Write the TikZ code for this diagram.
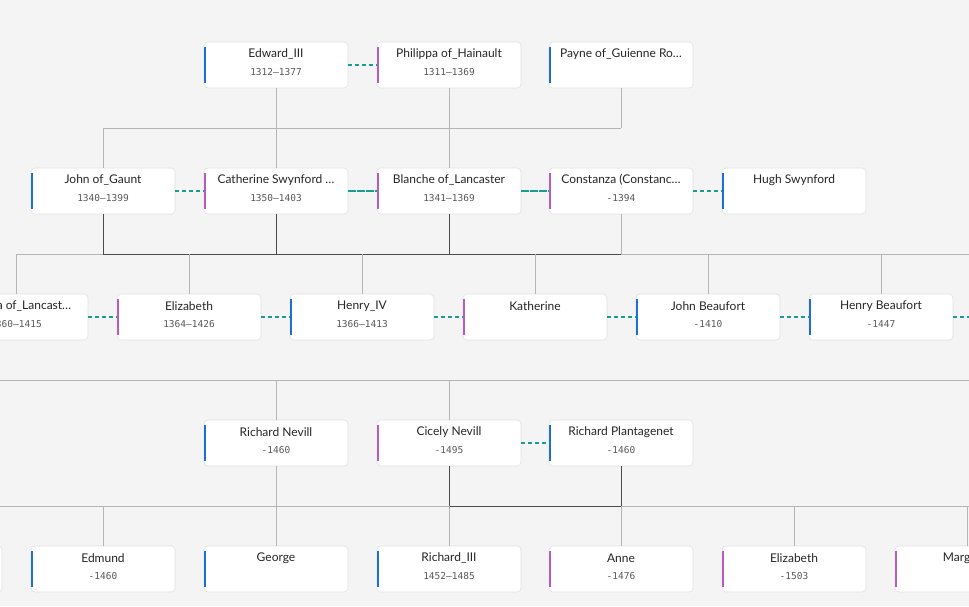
\documentclass[tikz,border=0pt]{standalone}
\usepackage{fontspec}
\setmainfont{Lato}
\newfontfamily\datefont{DejaVu Sans Mono}
\definecolor{bg}{HTML}{F3F4F3}
\definecolor{male}{HTML}{1E6FD0}
\definecolor{female}{HTML}{B85CC0}
\definecolor{spteal}{HTML}{1A9C92}
\definecolor{cardline}{HTML}{E0E2E2}
\definecolor{lite}{HTML}{B4B6B6}
\definecolor{dark}{HTML}{4A4A4A}
\tikzset{
 card/.style={draw=cardline,fill=white,rounded corners=4pt,minimum width=144pt,minimum height=46pt,inner sep=0pt,line width=0.6pt},
 nm/.style={font=\fontsize{12}{14}\selectfont,text=black!85},
 dt/.style={font=\datefont\fontsize{9.5}{11}\selectfont,text=black!65},
 spouse/.style={color=spteal,dash pattern=on 4pt off 3pt,line width=1.4pt},
 lk/.style={draw=lite,line width=0.9pt},
 dk/.style={draw=dark,line width=1pt},
}
\newcommand{\card}[6]{% name, x, y, colour, name text, date
 \node[card] (#1) at (#2,#3) {};
 \draw[#4,line width=2.2pt] ([xshift=1.1pt,yshift=-5pt]#1.north west) -- ([xshift=1.1pt,yshift=5pt]#1.south west);
 \node[nm] (#1n) at (#2,#3-11) {#5};
 \node[dt] (#1d) at (#2,#3+7) {#6};
}
\begin{document}
\begin{tikzpicture}[x=1pt,y=-1pt]
\fill[bg] (0,0) rectangle (969,606);
\useasboundingbox (0,0) rectangle (969,606);
\clip (0,0) rectangle (969,606);
\coordinate (h1a) at (103,128); \coordinate (h1b) at (621,128);
\coordinate (h2a) at (16,254); \coordinate (h2b) at (969,254);
\coordinate (h3a) at (0,380); \coordinate (h3b) at (969,380);
\coordinate (h4a) at (0,506); \coordinate (h4b) at (969,506);
\draw[lk] (h1a) -- (h1b);
\draw[lk] (h2a) -- (h2b);
\draw[dk] (103,254) -- (621,254);
\draw[lk] (h3a) -- (h3b);
\draw[lk] (h4a) -- (h4b);
\draw[dk] (449,506) -- (621,506);
% row 1
\card{ed}{276}{65}{male}{Edward\_III}{1312–1377}
\card{ph}{449}{65}{female}{Philippa of\_Hainault}{1311–1369}
\card{pa}{621}{65}{male}{Payne of\_Guienne Ro…}{}
% row 2
\card{jg}{103}{191}{male}{John of\_Gaunt}{1340–1399}
\card{cs}{276}{191}{female}{Catherine Swynford …}{1350–1403}
\card{bl}{449}{191}{female}{Blanche of\_Lancaster}{1341–1369}
\card{co}{621}{191}{female}{Constanza (Constanc…}{-1394}
\card{hs}{794}{191}{male}{Hugh Swynford}{}
% row 3
\card{pl}{16}{317}{female}{Philippa of\_Lancast…}{1360–1415}
\card{el}{189}{317}{female}{Elizabeth}{1364–1426}
\card{h4}{362}{317}{male}{Henry\_IV}{1366–1413}
\card{ka}{535}{317}{female}{Katherine}{}
\card{jb}{708}{317}{male}{John Beaufort}{-1410}
\card{hb}{881}{317}{male}{Henry Beaufort}{-1447}
% row 4
\card{rn}{276}{443}{male}{Richard Nevill}{-1460}
\card{ci}{449}{443}{female}{Cicely Nevill}{-1495}
\card{rp}{621}{443}{male}{Richard Plantagenet}{-1460}
% row 5
\card{xx}{-70}{569}{male}{}{}
\card{em}{103}{569}{male}{Edmund}{-1460}
\card{ge}{276}{569}{male}{George}{}
\card{r3}{449}{569}{male}{Richard\_III}{1452–1485}
\card{an}{621}{569}{female}{Anne}{-1476}
\card{e2}{794}{569}{female}{Elizabeth}{-1503}
\card{ma}{967}{569}{female}{Margaret}{}
\coordinate (hbr) at (969,317);
\draw[lk] (ed.south) -- (cs.north);
\draw[lk] (ph.south) -- (bl.north);
\draw[lk] (pa.south) -- (h1b);
\draw[lk] (h1a) -- (jg.north);
\draw[dk] (jg.south) -- (103,254);
\draw[dk] (cs.south) -- (276,254);
\draw[dk] (bl.south) -- (449,254);
\draw[lk] (co.south) -- (621,254);
\foreach \n/\x in {pl/16,el/189,h4/362,ka/535,jb/708,hb/881}{\draw[lk] (\x,254) -- (\n.north);}
\draw[lk] (276,380) -- (rn.north);
\draw[lk] (449,380) -- (ci.north);
\draw[dk] (ci.south) -- (449,506);
\draw[dk] (rp.south) -- (621,506);
\draw[lk] (rn.south) -- (ge.north);
\foreach \n/\x in {em/103,r3/449,an/621,e2/794,ma/967}{\draw[lk] (\x,506) -- (\n.north);}
\draw[spouse] (ed.east) -- (ph.west);
\draw[spouse] (jg.east) -- (cs.west);
\draw[spouse,dash pattern=on 8pt off 1pt] (cs.east) -- (bl.west);
\draw[spouse,dash pattern=on 8pt off 1pt] (bl.east) -- (co.west);
\draw[spouse] (co.east) -- (hs.west);
\draw[spouse] (pl.east) -- (el.west);
\draw[spouse] (el.east) -- (h4.west);
\draw[spouse] (h4.east) -- (ka.west);
\draw[spouse] (ka.east) -- (jb.west);
\draw[spouse] (jb.east) -- (hb.west);
\draw[spouse] (hb.east) -- (hbr);
\draw[spouse] (ci.east) -- (rp.west);
\end{tikzpicture}
\end{document}
